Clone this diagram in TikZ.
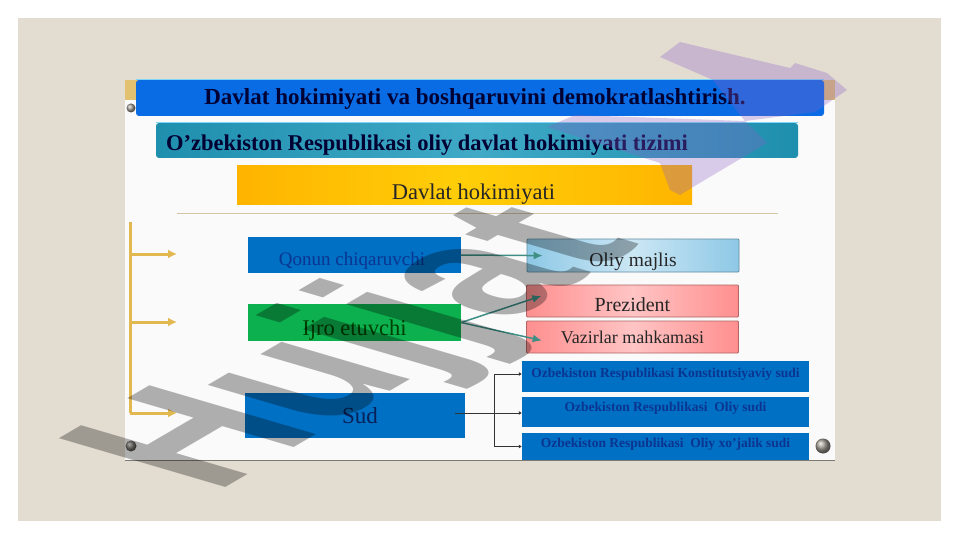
\documentclass[tikz,border=0pt]{standalone}
\usepackage{fontspec}
\setmainfont{Liberation Serif}
\newfontfamily\wmfont{Liberation Sans}
\usetikzlibrary{arrows.meta}
\definecolor{slidebg}{HTML}{E3DDD1}
\definecolor{goldline}{HTML}{E2B850}
\definecolor{barblue}{HTML}{0A6CE4}
\definecolor{barteal}{HTML}{1F8FAE}
\definecolor{tealmid}{HTML}{3FA9C6}
\definecolor{boxblue}{HTML}{0070C4}
\definecolor{boxgreen}{HTML}{0CB04E}
\definecolor{textblue}{HTML}{0B3590}
\definecolor{linkteal}{HTML}{3F8F85}
\definecolor{wmpurple}{HTML}{8A5FC8}
\definecolor{yellowedge}{HTML}{FFB400}
\definecolor{yellowmid}{HTML}{FFCE08}
\definecolor{skyedge}{HTML}{8EC8E6}
\definecolor{skymid}{HTML}{CBE7F4}
\definecolor{pinkedge}{HTML}{FF8F8F}
\definecolor{pinkmid}{HTML}{FFC4C4}
\newcommand{\lowered}[2]{\raisebox{-#1pt}[0pt][0pt]{#2}}
\tikzset{
    box/.style={inner sep=0pt, align=center},
    barbox/.style={box, rounded corners=3pt, text=black!80!blue},
    lightbox/.style={box, draw=#1, line width=0.8pt, rounded corners=1pt, minimum width=212pt, text=black!85},
    pinkbox/.style={lightbox=pinkedge!70!black, left color=pinkedge, right color=pinkedge, middle color=pinkmid},
    sudbox/.style={box, fill=boxblue, minimum width=287pt, text=textblue, font=\bfseries\fontsize{13.5}{15}\selectfont},
    screw/.style={circle, inner sep=0pt, minimum size=#1, shading=ball, ball color=slidebg!70!black},
    goldarrow/.style={goldline, line width=3pt, -{Latex[length=9pt,width=9pt]}},
    goldstem/.style={goldline, line width=3pt},
    link/.style={linkteal, line width=1.5pt, -{Latex[length=9pt,width=8pt]}},
    sudline/.style={black!80, line width=0.9pt},
    sudlink/.style={sudline, -{Latex[length=3pt,width=4pt]}},
    wmark/.style={transform shape, anchor=base west, inner sep=0pt, text=black, text opacity=0.3, font=\wmfont\bfseries\fontsize{100}{100}\selectfont},
    wmshape/.style={fill=wmpurple, fill opacity=0.3}
}
\begin{document}
\begin{tikzpicture}[x=1pt, y=-1pt]
    \useasboundingbox (0,0) rectangle (961,540);
    % Draw the slide
    \fill[slidebg] (18,18) rectangle (941,521);
    \fill[white!98!black] (125,80) rectangle (835,460);
    \draw[black!45!slidebg, line width=1pt] (125,460) -- (835,460);
    \fill[goldline!75!slidebg] (125,80) rectangle (138,100);
    \fill[goldline!75!slidebg] (822,80) rectangle (835,100);

    % Draw the title bars
    \node[barbox, fill=barblue, minimum width=688pt, minimum height=36pt, font=\bfseries\fontsize{23}{26}\selectfont] (titlebar) at (480,98) {\hspace*{-10pt}\lowered{6.7}{Davlat hokimiyati va boshqaruvini demokratlashtirish.}};
    \node[barbox, left color=barteal, right color=barteal, middle color=tealmid, minimum width=642pt, minimum height=35pt, font=\bfseries\fontsize{22.5}{26}\selectfont] (subbar) at (477,140.5) {\hspace*{-100pt}\lowered{10}{O'zbekiston Respublikasi oliy davlat hokimiyati tizimi}};
    \node[box, left color=yellowedge, right color=yellowedge, middle color=yellowmid, minimum width=455pt, minimum height=39pt, font=\fontsize{22.5}{26}\selectfont, text=black!85] (powerbar) at (464.5,185.5) {\hspace*{18pt}\lowered{14}{Davlat hokimiyati}};
    \draw[cyan!50!white, line width=1pt] (titlebar.north west) -- (titlebar.north east);
    \draw[cyan!50!white, line width=1pt] (subbar.north west) -- (subbar.north east);
    \draw[black!30!goldline!45!white, line width=1pt] (177,214) -- (778,214);

    % Draw the gold bracket on the left
    \coordinate (goldtop) at (130,222);
    \coordinate (goldbot) at (130,413);
    \coordinate (golda) at (130,254);
    \coordinate (goldb) at (130,322);
    \coordinate (enda) at (177,254);
    \coordinate (endb) at (177,322);
    \coordinate (endc) at (177,413);
    \draw[goldstem] (goldtop) -- (goldbot);
    \draw[goldarrow] (golda) -- (enda);
    \draw[goldarrow] (goldb) -- (endb);
    \draw[goldarrow] (goldbot) -- (endc);

    % Draw the three branches
    \node[box, fill=boxblue, minimum width=213pt, minimum height=36pt, text=textblue, font=\fontsize{19}{22}\selectfont] (qonun) at (354.5,255) {\hspace*{-5pt}\lowered{10.7}{Qonun chiqaruvchi}};
    \node[box, fill=boxgreen, minimum width=213pt, minimum height=37pt, text=black!75!green, font=\fontsize{22.5}{26}\selectfont] (ijro) at (354.5,322.5) {\lowered{13}{Ijro etuvchi}};
    \node[box, fill=boxblue, minimum width=220pt, minimum height=45pt, text=textblue!60!black, font=\fontsize{23}{26}\selectfont] (sud) at (355,415.5) {\hspace*{10pt}\lowered{8}{Sud}};

    % Draw the boxes on the right
    \node[lightbox=skyedge!70!black, left color=skyedge, right color=skyedge, middle color=skymid, minimum height=33pt, font=\fontsize{19.5}{22}\selectfont] (majlis) at (633,255.5) {\lowered{10.5}{Oliy majlis}};
    \node[pinkbox, minimum height=32pt, font=\fontsize{20}{23}\selectfont] (prezident) at (632.5,301) {\lowered{10}{Prezident}};
    \node[pinkbox, minimum height=32pt, font=\fontsize{18}{21}\selectfont] (vazirlar) at (632.5,337) {\lowered{6.5}{Vazirlar mahkamasi}};
    \node[sudbox, minimum height=31pt] (konst) at (665.5,376.5) {\lowered{1}{Ozbekiston Respublikasi Konstitutsiyaviy sudi}};
    \node[sudbox, minimum height=30pt] (oliy) at (665.5,412) {\lowered{-0.6}{Ozbekiston Respublikasi \ Oliy sudi}};
    \node[sudbox, minimum height=27pt] (xojalik) at (665.5,446.5) {\lowered{1}{Ozbekiston Respublikasi \ Oliy xo'jalik sudi}};

    % Draw the links between the boxes
    \draw[link, shorten >=-16pt] (qonun.east) -- (majlis.west);
    \draw[link, shorten >=-16pt] (ijro.east) -- (prezident.west);
    \draw[link, shorten >=-16pt] (ijro.east) -- (vazirlar.west);
    \coordinate (bus) at (494,413);
    \draw[sudline, shorten <=-10pt] ([yshift=2.5pt]sud.east) -- (bus);
    \draw[sudlink] (bus) |- ([yshift=2.5pt]konst.west);
    \draw[sudlink] (bus) -- (bus -| oliy.west);
    \draw[sudlink] (bus) |- (xojalik.west);

    % Draw the screws
    \node[screw=11pt] (screwa) at (131,446) {};
    \node[screw=15pt] (screwb) at (823,446) {};
    \node[screw=9pt] (screwc) at (131,108) {};

    % Draw the watermark
    \begin{scope}[shift={(215,494)}]
        \node[wmark, cm={1.54,0.90,-2.42,0.71,(0,0)}] (wmtext) at (0,0) {Hujjat};
    \end{scope}
    \fill[wmshape] (660,57) -- (680,42) -- (790,68) -- (795,63) -- (827,73) -- (847,90) -- (815,112) -- (745,121) -- (713,80) -- cycle;
    \fill[wmshape] (547,127) -- (575,115) -- (745,121) -- (767,143) -- (693,187) -- (680,195) -- (670,190) -- (660,163) -- cycle;
\end{tikzpicture}
\end{document}
